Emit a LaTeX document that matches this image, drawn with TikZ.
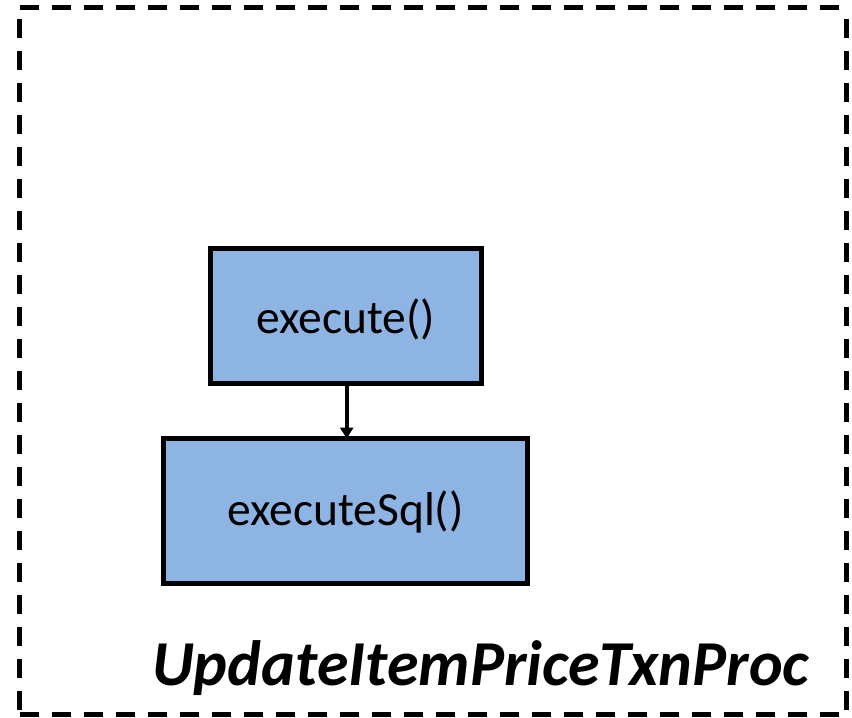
\documentclass[tikz,border=0pt]{standalone}
\usepackage{fontspec}
\setmainfont{Carlito}
\usetikzlibrary{arrows.meta}
\definecolor{boxfill}{RGB}{141,180,226}
\tikzset{
  method/.style={draw=black, line width=5pt, fill=boxfill, inner sep=0pt, outer sep=0pt,
    text depth=0pt, font=\fontsize{47.5}{52}\selectfont},
  frameline/.style={line width=5pt, dash pattern=on 19pt off 13pt},
  callarrow/.style={line width=4pt, -{Triangle[width=13pt,length=11pt]}}
}
\begin{document}
\begin{tikzpicture}[x=1pt, y=-1pt]
  \useasboundingbox (0,0) rectangle (852,718);
  % dashed frame of the transaction procedure
  \draw[frameline, dash phase=-1pt] (19,7.5) -- (846,7.5);
  \draw[frameline, dash phase=-11.5pt] (19,7.5) -- (19,714);
  \draw[frameline, dash phase=-11.5pt] (846,7.5) -- (846,714);
  \draw[frameline, dash phase=-1pt] (19,714) -- (846,714);
  % method boxes
  \node[method, text height=35pt, minimum width=271pt, minimum height=135pt] (exec) at (345.5,315.5) {execute()};
  \node[method, text height=28pt, minimum width=364pt, minimum height=145pt] (sql) at (345.5,511) {executeSql()};
  \draw[callarrow] (exec.south -| 346.7,0) -- (sql.north -| 346.7,0);
  % procedure name
  \node[anchor=base west, inner sep=0pt, font=\fontsize{64}{68}\selectfont\bfseries\itshape] (name) at (152,685) {UpdateItemPriceTxnProc};
\end{tikzpicture}
\end{document}
